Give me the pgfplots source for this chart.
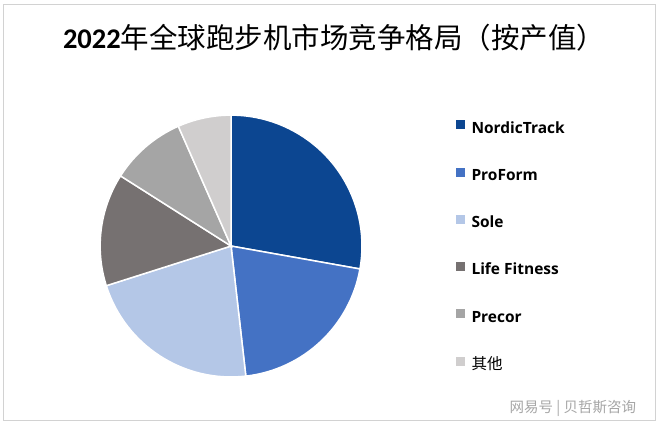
\documentclass[border=0pt]{standalone}
\usepackage{fontspec}
\usepackage{pgfplots}
\usepackage{pgfplotstable}
\pgfplotsset{compat=1.18}
\setmainfont{Open Sans}
\newfontfamily\cjk{Noto Sans CJK SC}[BoldFont={Noto Sans CJK SC Bold}]
\newfontfamily\carl{Carlito}
\definecolor{c1}{RGB}{12,70,145}
\definecolor{c2}{RGB}{68,114,196}
\definecolor{c3}{RGB}{180,199,231}
\definecolor{c4}{RGB}{118,113,113}
\definecolor{c5}{RGB}{165,165,165}
\definecolor{c6}{RGB}{208,206,206}
\pgfplotstableread{
name value
NordicTrack 27.8
ProForm 20.4
Sole 21.9
LifeFitness 13.9
Precor 9.4
Others 6.6
}\sharetable
\def\cum{90}%
\expandafter\xdef\csname ang0\endcsname{90}%
\pgfplotsforeachungrouped \i in {0,...,5}{%
  \pgfplotstablegetelem{\i}{value}\of\sharetable
  \pgfmathsetmacro\cum{\cum-3.6*\pgfplotsretval}%
  \pgfmathtruncatemacro\j{\i+1}%
  \expandafter\xdef\csname ang\j\endcsname{\cum}%
}%
\def\A#1{\csname ang#1\endcsname}
\begin{document}
\begin{tikzpicture}
\begin{axis}[x=1bp,y=1bp,xmin=0,xmax=660,ymin=0,ymax=425,
  hide axis, clip=false, scale only axis,
  legend image code/.code={\fill[#1] (0bp,0bp) rectangle (8bp,8bp);},
  legend cell align=left,
  legend style={draw=none, fill=none, inner sep=0pt,
    at={(axis cs:456,305)}, anchor=north west,
    nodes={inner sep=0pt, text height=12bp, text depth=3bp},
    row sep=31.6bp, column sep=7bp,
    font=\bfseries\fontsize{15.5bp}{18bp}\selectfont},
]
\path[draw=white] (axis cs:0,0) rectangle (axis cs:660,425);
\draw[gray!35, line width=1bp] (axis cs:3,4) rectangle (axis cs:656,421);
\foreach \k/\c in {0/c1,1/c2,2/c3,3/c4,4/c5,5/c6}{
  \pgfmathtruncatemacro\kk{\k+1}
  \edef\tmp{\noexpand\fill[\c, draw=white, line width=1.5bp] (axis cs:231,179) -- ++(\A{\k}:131bp) arc[start angle=\A{\k}, end angle=\A{\kk}, radius=131bp] -- cycle;}
  \tmp
}
\addlegendimage{c1}\addlegendentry{NordicTrack}
\addlegendimage{c2}\addlegendentry{ProForm}
\addlegendimage{c3}\addlegendentry{Sole}
\addlegendimage{c4}\addlegendentry{Life Fitness}
\addlegendimage{c5}\addlegendentry{Precor}
\addlegendimage{c6}\addlegendentry{\mdseries\cjk 其他}
\node[font=\fontsize{28.5bp}{31bp}\selectfont] at (axis cs:334,387) {{\carl\bfseries 2022}{\cjk 年全球跑步机市场竞争格局（按产值）}};
\node[font=\cjk\fontsize{14.5bp}{16bp}\selectfont, text=gray!70] at (axis cs:573,17) {网易号 | 贝哲斯咨询};
\end{axis}
\end{tikzpicture}
\end{document}
